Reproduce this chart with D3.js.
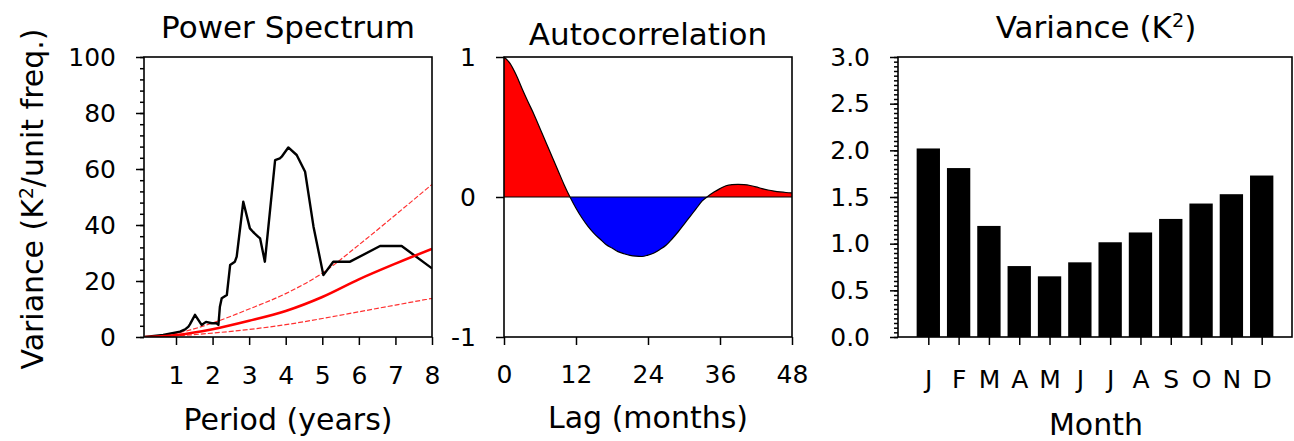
<!DOCTYPE html>
<html>
<head>
<meta charset="utf-8">
<script src="https://cdn.jsdelivr.net/npm/d3@7"></script>
<style>
  body { margin: 0; background: #fff; }
  svg text { font-family: "DejaVu Sans", sans-serif; fill: #000; }
</style>
</head>
<body>
<div id="chart"></div>
<script>
// ---- data ----
// power spectrum (period in years, variance)
var specPeriod = [0.15, 0.65, 1.11, 1.25, 1.34, 1.38, 1.52, 1.61, 1.70, 1.82, 1.98, 2.11, 2.16, 2.20, 2.25, 2.39,
  2.48, 2.61, 2.66, 2.84, 3.02, 3.11, 3.25, 3.30, 3.43, 3.71, 3.84, 3.89, 4.07, 4.30, 4.53, 4.76, 5.03,
  5.30, 5.76, 6.58, 7.17, 8.0];
var specVar = [0, 0.7, 1.9, 2.7, 3.7, 4.5, 7.9, 6.1, 4.3, 5.4, 4.9, 4.9, 4.3, 10.8, 13.8, 15.0,
  25.7, 26.9, 28.7, 48.3, 38.8, 37.5, 35.8, 35.2, 26.9, 63.2, 63.8, 64.4, 67.7, 65.0, 59.0, 39.4, 22.1,
  26.9, 26.9, 32.5, 32.5, 24.5];
// red-noise spectrum and bounds
var redPeriod = [0.15, 0.5, 1, 2, 3, 4, 5, 6, 7, 8];
var redMid = [0, 0.15, 0.7, 2.8, 5.8, 9.3, 14.3, 20.6, 26.2, 31.5];
var redUpper = [0, 0.3, 1.3, 5.0, 10.0, 15.5, 22.8, 32.9, 43.6, 54.5];
var redLower = [0, 0.07, 0.4, 1.4, 2.7, 4.4, 6.6, 9.0, 11.4, 13.8];

// autocorrelation by lag (months 0..48)
var acfLag = d3.range(0, 49);
var acfVal = [1.00, 0.955, 0.875, 0.775, 0.68, 0.59, 0.49, 0.39, 0.29, 0.19, 0.09, 0.00,
  -0.08, -0.15, -0.21, -0.26, -0.30, -0.34, -0.365, -0.39, -0.405, -0.417, -0.423, -0.425,
  -0.415, -0.40, -0.375, -0.345, -0.30, -0.25, -0.195, -0.14, -0.085, -0.03, 0.005, 0.035,
  0.06, 0.08, 0.088, 0.09, 0.088, 0.082, 0.072, 0.06, 0.05, 0.042, 0.036, 0.032, 0.03];

// monthly variance
var months = ["J", "F", "M", "A", "M", "J", "J", "A", "S", "O", "N", "D"];
var monthVar = [2.02, 1.81, 1.19, 0.76, 0.65, 0.80, 1.015, 1.12, 1.265, 1.43, 1.53, 1.73];

// ticks
var periodTicks = [1, 2, 3, 4, 5, 6, 7, 8];
var specTicks = [0, 20, 40, 60, 80, 100];
var lagTicks = [0, 12, 24, 36, 48];
var acfTicks = [-1, 0, 1];
var varTicks = [0, 0.5, 1.0, 1.5, 2.0, 2.5, 3.0];

// ---- layout ----
var svg = d3.select("#chart").append("svg")
  .attr("width", 1294)
  .attr("height", 441);

var plotTop = 57, plotBottom = 337;
var tickFont = "25px", labelFont = "30px", titleFont = "31px";

function styleAxis(g) {
  g.select(".domain").remove();
  g.selectAll("line").attr("stroke", "#000").attr("stroke-width", 1.5);
  g.selectAll("text").style("font-size", tickFont).attr("font-family", null);
}

function frame(x0, x1) {
  svg.append("rect")
    .attr("x", x0).attr("y", plotTop)
    .attr("width", x1 - x0).attr("height", plotBottom - plotTop)
    .attr("fill", "none")
    .attr("stroke", "#000")
    .attr("stroke-width", 1.6);
}

// parts: array of [text, isSuperscript]
function addParts(t, parts) {
  var wasSup = false;
  parts.forEach(function (p) {
    var s = t.append("tspan").text(p[0]);
    if (p[1]) {
      s.attr("dy", "-0.55em").style("font-size", "0.62em");
      wasSup = true;
    } else if (wasSup) {
      s.attr("dy", "0.34em");
      wasSup = false;
    }
  });
}

function title(x, y, parts) {
  var t = svg.append("text")
    .attr("x", x).attr("y", y)
    .attr("text-anchor", "middle")
    .style("font-size", titleFont);
  addParts(t, parts);
  return t;
}

// ================= Panel 1: Power Spectrum =================
var x1 = d3.scaleLinear().domain([0.125, 8]).range([144, 432]);
var y1 = d3.scaleLinear().domain([0, 100]).range([plotBottom, plotTop]);

svg.append("clipPath").attr("id", "clip1")
  .append("rect").attr("x", 144).attr("y", plotTop).attr("width", 288).attr("height", plotBottom - plotTop);

var g1 = svg.append("g").attr("clip-path", "url(#clip1)");

var redLine = d3.line()
  .x(function (d) { return x1(d[0]); })
  .y(function (d) { return y1(d[1]); })
  .curve(d3.curveMonotoneX);

g1.append("path")
  .datum(d3.zip(redPeriod, redUpper))
  .attr("d", redLine)
  .attr("fill", "none").attr("stroke", "#ff3030").attr("stroke-width", 1.2)
  .attr("stroke-dasharray", "5,2");
g1.append("path")
  .datum(d3.zip(redPeriod, redLower))
  .attr("d", redLine)
  .attr("fill", "none").attr("stroke", "#ff3030").attr("stroke-width", 1.2)
  .attr("stroke-dasharray", "5,2");

g1.append("path")
  .datum(d3.zip(specPeriod, specVar))
  .attr("d", d3.line().x(function (d) { return x1(d[0]); }).y(function (d) { return y1(d[1]); }))
  .attr("fill", "none").attr("stroke", "#000").attr("stroke-width", 2.4)
  .attr("stroke-linejoin", "round");

g1.append("path")
  .datum(d3.zip(redPeriod, redMid))
  .attr("d", redLine)
  .attr("fill", "none").attr("stroke", "#ff0000").attr("stroke-width", 2.6);

svg.append("g")
  .attr("transform", "translate(144,0)")
  .call(d3.axisLeft(y1).tickValues(d3.range(0, 101, 4)).tickSize(4).tickFormat(""))
  .call(styleAxis);
svg.append("g")
  .attr("transform", "translate(144,0)")
  .call(d3.axisLeft(y1).tickValues(specTicks).tickSize(8).tickPadding(20))
  .call(styleAxis);
svg.append("g")
  .attr("transform", "translate(0," + plotBottom + ")")
  .call(d3.axisBottom(x1).tickValues(periodTicks).tickSize(8).tickPadding(21))
  .call(styleAxis);
frame(144, 432);

title(288, 38, [["Power Spectrum", false]]);
svg.append("text")
  .attr("text-anchor", "middle")
  .attr("transform", "translate(288,430)")
  .style("font-size", labelFont)
  .text("Period (years)");
var yl = svg.append("text")
  .attr("text-anchor", "middle")
  .attr("transform", "translate(43,199) rotate(-90)")
  .style("font-size", labelFont);
addParts(yl, [["Variance (K", false], ["2", true], ["/unit freq.)", false]]);

// ================= Panel 2: Autocorrelation =================
var x2 = d3.scaleLinear().domain([0, 48]).range([504, 792]);
var y2 = d3.scaleLinear().domain([-1, 1]).range([plotBottom, plotTop]);
var acf = d3.zip(acfLag, acfVal);

svg.append("clipPath").attr("id", "clipPos")
  .append("rect").attr("x", 504).attr("y", plotTop).attr("width", 288).attr("height", y2(0) - plotTop);
svg.append("clipPath").attr("id", "clipNeg")
  .append("rect").attr("x", 504).attr("y", y2(0)).attr("width", 288).attr("height", plotBottom - y2(0));

var acfArea = d3.area()
  .x(function (d) { return x2(d[0]); })
  .y0(y2(0))
  .y1(function (d) { return y2(d[1]); })
  .curve(d3.curveMonotoneX);
var acfLine = d3.line()
  .x(function (d) { return x2(d[0]); })
  .y(function (d) { return y2(d[1]); })
  .curve(d3.curveMonotoneX);

svg.append("path").datum(acf).attr("d", acfArea)
  .attr("fill", "#ff0000").attr("clip-path", "url(#clipPos)");
svg.append("path").datum(acf).attr("d", acfArea)
  .attr("fill", "#0000ff").attr("clip-path", "url(#clipNeg)");
svg.append("path").datum(acf).attr("d", acfLine)
  .attr("fill", "none").attr("stroke", "#000").attr("stroke-width", 1.2);
svg.append("line")
  .attr("x1", 504).attr("x2", 792).attr("y1", y2(0)).attr("y2", y2(0))
  .attr("stroke", "#000").attr("stroke-width", 1.2);

svg.append("g")
  .attr("transform", "translate(504,0)")
  .call(d3.axisLeft(y2).tickValues(acfTicks).tickSize(8).tickPadding(20)
    .tickFormat(function (d) { return String(d); }))
  .call(styleAxis);
svg.append("g")
  .attr("transform", "translate(0," + plotBottom + ")")
  .call(d3.axisBottom(x2).tickValues(lagTicks).tickSize(8).tickPadding(20))
  .call(styleAxis);
frame(504, 792);

title(648, 45, [["Autocorrelation", false]]);
svg.append("text")
  .attr("text-anchor", "middle")
  .attr("transform", "translate(648,428)")
  .style("font-size", labelFont)
  .text("Lag (months)");

// ================= Panel 3: Monthly variance =================
var x3 = d3.scaleLinear().domain([0, 13]).range([898, 1292]);
var y3 = d3.scaleLinear().domain([0, 3]).range([plotBottom, plotTop]);
var barW = x3(0.77) - x3(0);

svg.append("g").selectAll("rect")
  .data(monthVar)
  .enter()
  .append("rect")
  .attr("x", function (d, i) { return x3(i + 1) - barW / 2; })
  .attr("y", function (d) { return y3(d); })
  .attr("width", barW)
  .attr("height", function (d) { return y3(0) - y3(d); })
  .attr("fill", "#000");

svg.append("g")
  .attr("transform", "translate(898,0)")
  .call(d3.axisLeft(y3).tickValues(d3.range(0, 61).map(function (i) { return i * 0.05; })).tickSize(4).tickFormat(""))
  .call(styleAxis);
svg.append("g")
  .attr("transform", "translate(898,0)")
  .call(d3.axisLeft(y3).tickValues(varTicks).tickSize(8).tickPadding(20).tickFormat(d3.format(".1f")))
  .call(styleAxis);
svg.append("g")
  .attr("transform", "translate(0," + plotBottom + ")")
  .call(d3.axisBottom(x3).tickValues(d3.range(1, 13)).tickSize(8).tickPadding(25)
    .tickFormat(function (d) { return months[d - 1]; }))
  .call(styleAxis);
frame(898, 1292);

title(1096, 38, [["Variance (K", false], ["2", true], [")", false]]);
svg.append("text")
  .attr("text-anchor", "middle")
  .attr("transform", "translate(1096,435)")
  .style("font-size", labelFont)
  .text("Month");
</script>
</body>
</html>
